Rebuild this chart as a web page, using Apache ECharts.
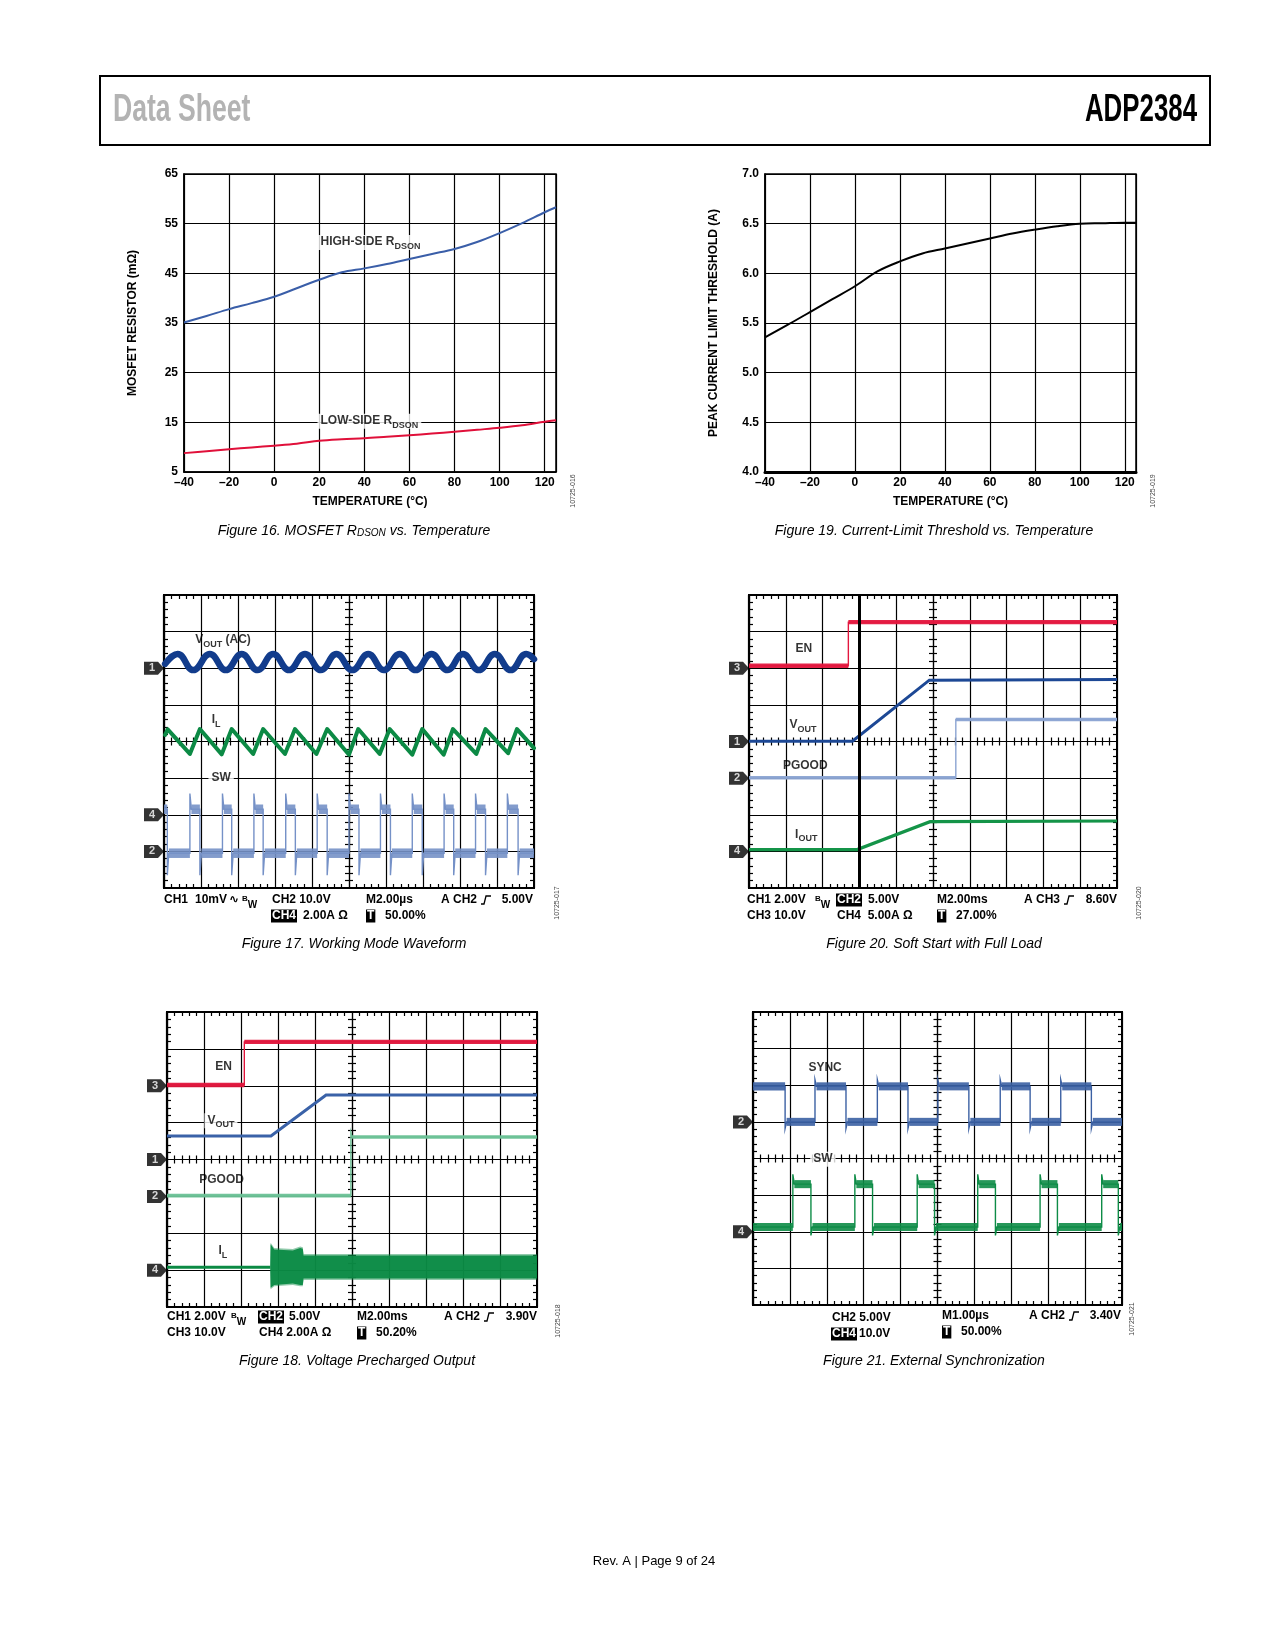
<!DOCTYPE html>
<html><head><meta charset="utf-8">
<script src="https://cdn.jsdelivr.net/npm/echarts@6/dist/echarts.min.js"></script>
<style>html,body{margin:0;padding:0;background:#fff}#c{width:1275px;height:1650px}</style>
</head><body><div id="c"></div>
<script>
const FF = '"Liberation Sans", Arial, Helvetica, sans-serif';

// ===== Figure 16: MOSFET RDSON vs Temperature =====
const f16Temp = [-40,-30,-20,-10,0,10,20,30,40,50,60,70,80,90,100,110,120,125];
const f16High = [35.1,36.4,37.8,39.0,40.3,42.0,43.7,45.2,46.0,46.9,47.9,48.9,49.9,51.3,53.1,55.1,57.3,58.3];
const f16Low  = [8.8,9.2,9.6,9.95,10.3,10.7,11.3,11.6,11.8,12.1,12.4,12.75,13.1,13.5,13.9,14.4,15.1,15.4];

// ===== Figure 19: Current-limit threshold =====
const f19Temp = [-40,-30,-20,-10,0,10,20,30,40,50,60,70,80,90,100,110,120,125];
const f19Ilim = [5.355,5.48,5.61,5.74,5.87,6.02,6.12,6.20,6.25,6.30,6.35,6.40,6.44,6.475,6.50,6.505,6.51,6.51];

// ===== Figure 17: working mode (divisions, x -5..5, y -4..4) =====
const f17VoutX = [-4.97,-4.63,-4.21,-3.76,-3.33,-2.90,-2.47,-2.05,-1.62,-1.19,-0.76,-0.34,0.09,0.52,0.94,1.37,1.80,2.23,2.66,3.08,3.51,3.94,4.37,4.79,5.00];
const f17VoutY = [2.12,2.39,1.95,2.39,1.95,2.39,1.95,2.39,1.95,2.39,1.95,2.39,1.95,2.39,1.95,2.39,1.95,2.39,1.95,2.39,1.95,2.39,1.95,2.39,2.25];
const f17IlX = [-4.97,-4.90,-4.30,-4.03,-3.44,-3.17,-2.59,-2.32,-1.73,-1.46,-0.88,-0.59,0.00,0.25,0.83,1.10,1.71,1.98,2.56,2.81,3.44,3.69,4.30,4.54,5.00];
const f17IlY = [0.18,0.33,-0.34,0.34,-0.35,0.34,-0.34,0.34,-0.34,0.34,-0.34,0.34,-0.36,0.34,-0.34,0.34,-0.36,0.34,-0.36,0.34,-0.34,0.34,-0.32,0.34,-0.18];
const f17SwRise = [-4.30,-3.42,-2.57,-1.71,-0.86,0.00,0.85,1.71,2.57,3.42,4.28];
const f17SwFall = [-4.91,-4.03,-3.17,-2.32,-1.45,-0.59,0.27,1.12,1.98,2.83,3.69,4.57];
const f17SwLevel = [-1.85,-3.05];      // high, low
const f17SwSpike = [-1.42,-3.65];      // overshoot up, undershoot down
const f17Markers = ['1','4','2'];
const f17MarkerY = [2,-2,-3];

// ===== Figure 20: soft start =====
const f20EnX = [-5,-2.30,-2.30,5];      const f20EnY = [2.07,2.07,3.26,3.26];
const f20VoutX = [-5,-2.19,-0.10,5];    const f20VoutY = [0.01,0.01,1.675,1.69];
const f20PgX = [-5,0.62,0.62,5];        const f20PgY = [-0.99,-0.99,0.60,0.60];
const f20IoX = [-5,-2.06,-0.08,5];      const f20IoY = [-2.95,-2.95,-2.19,-2.17];
const f20Cursor = [-2];
const f20Markers = ['3','1','2','4'];
const f20MarkerY = [2,0,-1,-3];

// ===== Figure 18: precharged output =====
const f18EnX = [-5,-2.91,-2.91,5];      const f18EnY = [2.02,2.02,3.19,3.19];
const f18VoutX = [-5,-2.19,-0.70,5];    const f18VoutY = [0.64,0.64,1.75,1.75];
const f18PgX = [-5,-0.03,-0.03,0.00,5]; const f18PgY = [-0.98,-0.98,0.73,0.61,0.61];
const f18IlX = [-5,-2.21];              const f18IlY = [-2.92,-2.92];
const f18IlBandX  = [-2.21,-2.20,-2.10,-1.60,-1.40,-1.33,-1.31,5.00];
const f18IlBandHi = [-2.92,-2.30,-2.44,-2.47,-2.40,-2.42,-2.60,-2.60];
const f18IlBandLo = [-2.92,-3.48,-3.40,-3.36,-3.40,-3.40,-3.23,-3.23];
const f18Markers = ['3','1','2','4'];
const f18MarkerY = [2,0,-1,-3];

// ===== Figure 21: external sync =====
const f21SyncRise = [-3.32,-1.63,0.01,1.70,3.34];
const f21SyncFall = [-4.13,-2.48,-0.80,0.85,2.51,4.17];
const f21SyncLevel = [1.97,1.00];
const f21SyncSpike = [2.15,0.82];
const f21SwRise = [-3.92,-2.24,-0.55,1.09,2.78,4.45];
const f21SwFall = [-3.43,-1.76,-0.08,1.57,3.25,4.90];
const f21SwLevel = [-0.70,-1.87];
const f21SwSpike = [-0.43,-2.10];
const f21Markers = ['2','4'];
const f21MarkerY = [1,-2];

// ===== layout =====
const grids = [
  {left:184, top:174, width:372, height:298},
  {left:765, top:174, width:371, height:298},
  {left:164, top:595, width:370, height:293},
  {left:749, top:595, width:368, height:293},
  {left:167, top:1012, width:370, height:295},
  {left:753, top:1012, width:369, height:293}
];
const isScope = [false,false,true,true,true,true];

const xAxes=[], yAxes=[];
const addX=o=>{xAxes.push(o);return xAxes.length-1;};
const addY=o=>{yAxes.push(o);return yAxes.length-1;};
const B12 = {fontFamily:FF, fontWeight:'bold', fontSize:12, color:'#000'};
const zip=(a,b)=>a.map((v,i)=>[v,b[i]]);

function tempAxes(gi, yMin, yMax, yInt, yName, yFmt, bw){
  const xi = addX({gridIndex:gi, type:'value', min:-40, max:125, interval:20,
    axisLine:{show:true,onZero:false,lineStyle:{color:'#000',width:bw}},
    axisTick:{show:false}, splitLine:{show:true,lineStyle:{color:'#000',width:1.2}},
    axisLabel:Object.assign({}, B12, {margin:5, showMaxLabel:false, formatter:v=>String(v).replace('-','\u2013')}),
    name:'TEMPERATURE (\u00B0C)', nameLocation:'middle', nameGap:24, nameTextStyle:Object.assign({},B12)});
  const yi = addY({gridIndex:gi, type:'value', min:yMin, max:yMax, interval:yInt,
    axisLine:{show:true,onZero:false,lineStyle:{color:'#000',width:1.5}},
    axisTick:{show:false}, splitLine:{show:true,lineStyle:{color:'#000',width:1.2}},
    axisLabel:Object.assign({}, B12, {margin:6, formatter:yFmt}),
    name:yName, nameLocation:'middle', nameGap:45, nameTextStyle:Object.assign({},B12)});
  return [xi, yi];
}

function scopeAxes(gi){
  const g = grids[gi];
  const bl = {color:'#000', width:1.2};
  const mt = {show:true, splitNumber:5, length:4, lineStyle:{color:'#000', width:1.2}};
  const cx = {gridIndex:gi, type:'value', min:-5, max:5, interval:1, axisLabel:{show:false}, splitLine:{show:false}};
  const cy = {gridIndex:gi, type:'value', min:-4, max:4, interval:1, axisLabel:{show:false}, splitLine:{show:false}};
  const xm = addX(Object.assign({}, cx, {position:'bottom', axisLine:{show:true,onZero:false,lineStyle:{color:'#000',width:2.2}}, axisTick:{show:false,inside:true}, minorTick:mt, splitLine:{show:true,lineStyle:bl}}));
  addX(Object.assign({}, cx, {position:'top', axisLine:{show:true,onZero:false,lineStyle:{color:'#000',width:2}}, axisTick:{show:false,inside:true}, minorTick:mt}));
  addX(Object.assign({}, cx, {position:'bottom', offset:-g.height/2, axisLine:{show:true,onZero:false,lineStyle:bl}, axisTick:{show:false,inside:true}, minorTick:mt}));
  addX(Object.assign({}, cx, {position:'bottom', offset:-g.height/2, axisLine:{show:false,onZero:false}, axisTick:{show:false,inside:false}, minorTick:mt}));
  const ym = addY(Object.assign({}, cy, {position:'left', axisLine:{show:true,onZero:false,lineStyle:{color:'#000',width:2.2}}, axisTick:{show:false,inside:true}, minorTick:mt, splitLine:{show:true,lineStyle:bl}}));
  addY(Object.assign({}, cy, {position:'right', axisLine:{show:true,onZero:false,lineStyle:{color:'#000',width:2}}, axisTick:{show:false,inside:true}, minorTick:mt}));
  addY(Object.assign({}, cy, {position:'left', offset:-g.width/2, axisLine:{show:true,onZero:false,lineStyle:bl}, axisTick:{show:false,inside:true}, minorTick:mt}));
  addY(Object.assign({}, cy, {position:'left', offset:-g.width/2, axisLine:{show:false,onZero:false}, axisTick:{show:false,inside:false}, minorTick:mt}));
  return [xm, ym];
}

const A16 = tempAxes(0, 5, 65, 10, 'MOSFET RESISTOR (m\u03A9)', v=>String(v), 1.5);
const A19 = tempAxes(1, 4, 7, 0.5, 'PEAK CURRENT LIMIT THRESHOLD (A)', v=>v.toFixed(1), 3);
const A17 = scopeAxes(2);
const A20 = scopeAxes(3);
const A18 = scopeAxes(4);
const A21 = scopeAxes(5);

const series = [];
function line(ai, pts, color, width, extra){
  series.push(Object.assign({type:'line', xAxisIndex:ai[0], yAxisIndex:ai[1], data:pts, showSymbol:false, symbol:'none',
    lineStyle:{color, width, cap:'butt', join:'miter'}, itemStyle:{color}, silent:true, z:4}, extra||{}));
}
function bands(ai, items, color, opacity){
  series.push({type:'custom', xAxisIndex:ai[0], yAxisIndex:ai[1], data:items, silent:true, z:3, clip:true,
    encode:{x:[0,1], y:2},
    renderItem:(p, api)=>{
      const h = api.value(3)/2;
      const a = api.coord([api.value(0), api.value(2)+h]);
      const b = api.coord([api.value(1), api.value(2)-h]);
      return {type:'rect', shape:{x:a[0], y:a[1], width:b[0]-a[0], height:b[1]-a[1]}, style:{fill:color, opacity:opacity}};
    }});
}
function polyBand(ai, xs, hi, lo, color, opacity){
  series.push({type:'custom', xAxisIndex:ai[0], yAxisIndex:ai[1], data:[[xs[0], hi[0]]], silent:true, z:3,
    renderItem:(p, api)=>{
      const pts=[];
      for(let i=0;i<xs.length;i++) pts.push(api.coord([xs[i],hi[i]]));
      for(let i=xs.length-1;i>=0;i--) pts.push(api.coord([xs[i],lo[i]]));
      return {type:'polygon', shape:{points:pts}, style:{fill:color, opacity:opacity}};
    }});
}
function flatsOf(xs, ys, th){
  const out=[];
  for(let i=0;i<xs.length-1;i++) if(ys[i]===ys[i+1] && xs[i+1]>xs[i]) out.push([xs[i],xs[i+1],ys[i],th]);
  return out;
}
function stepTrace(ai, startHigh, rises, falls, level, spike, color, th){
  const ev = rises.map(t=>[t,1]).concat(falls.map(t=>[t,0])).sort((a,b)=>a[0]-b[0]);
  let lvl = startHigh ? level[0] : level[1];
  let cur = -5;
  const pts=[[-5,lvl]], fl=[];
  ev.forEach(([t,r])=>{
    pts.push([t,lvl]); fl.push([cur,t,lvl,th]);
    if(r){ pts.push([t,spike[0]]); lvl=level[0]; } else { pts.push([t,spike[1]]); lvl=level[1]; }
    pts.push([t+0.04,lvl]); cur=t+0.04;
  });
  pts.push([5,lvl]); fl.push([cur,5,lvl,th]);
  bands(ai, fl, color, 0.9);
  line(ai, pts, color, 1.4);
}
function markers(ai, names, ys){
  series.push({type:'scatter', xAxisIndex:ai[0], yAxisIndex:ai[1], clip:false, silent:true, z:6,
    symbol:'path://M0,0 L14,0 L20,6.5 L14,13 L0,13 Z', symbolSize:[20,13], symbolOffset:[-10,0],
    itemStyle:{color:'#000'},
    label:{show:true, position:'inside', formatter:'{b}', color:'#fff', fontFamily:FF, fontWeight:'bold', fontSize:11, offset:[-2,0]},
    data: names.map((n,i)=>({name:n, value:[-5, ys[i]]}))});
}
const RICH = {
  n:{fontFamily:FF, fontWeight:'bold', fontSize:12, color:'#000', lineHeight:14, verticalAlign:'top'},
  s:{fontFamily:FF, fontWeight:'bold', fontSize:9, color:'#000', lineHeight:10, padding:[6,0,0,0], verticalAlign:'top'}
};
function annot(ai, items){
  series.push({type:'scatter', xAxisIndex:ai[0], yAxisIndex:ai[1], clip:false, silent:true, z:7,
    symbolSize:0.1, itemStyle:{color:'rgba(0,0,0,0)'},
    data: items.map(it=>({value:[it[0],it[1]], label:{show:true, position:'right', distance:0, formatter:it[2],
      rich:RICH, backgroundColor: it[3] ? '#fff' : 'transparent', padding: it[3] ? [1,3,0,3] : 0}}))});
}

// Fig 16
line(A16, zip(f16Temp, f16High), '#3a5ea8', 2, {smooth:0.35});
line(A16, zip(f16Temp, f16Low), '#e0103a', 2, {smooth:0.35});
annot(A16, [[19.2, 51.2, '{n|HIGH-SIDE R}{s|DSON}', true], [19.2, 15.2, '{n|LOW-SIDE R}{s|DSON}', true]]);
// Fig 19
line(A19, zip(f19Temp, f19Ilim), '#000', 2, {smooth:0.35});

// Fig 17
line(A17, zip(f17VoutX, f17VoutY), '#123c8c', 6.5, {smooth:0.45, lineStyle:{color:'#123c8c', width:6.5, cap:'round', join:'round'}});
line(A17, zip(f17IlX, f17IlY), '#0c8a45', 4, {lineStyle:{color:'#0c8a45', width:4, cap:'round', join:'round'}});
stepTrace(A17, true, f17SwRise, f17SwFall, f17SwLevel, f17SwSpike, '#7591c7', 0.26);
markers(A17, f17Markers, f17MarkerY);
annot(A17, [[-4.16, 2.75, '{n|V}{s|OUT}{n| (AC)}', false], [-3.71, 0.57, '{n|I}{s|L}', false], [-3.80, -1.0, '{n|SW}', true]]);

// Fig 20
bands(A20, flatsOf(f20EnX, f20EnY, 0.12), '#e3173e', 0.95);
line(A20, zip(f20EnX, f20EnY), '#e3173e', 1.4);
line(A20, zip(f20VoutX, f20VoutY), '#1d4895', 3, {markLine:{silent:true, symbol:['none','none'], label:{show:false},
  lineStyle:{color:'#000', width:3, type:'solid'}, data:f20Cursor.map(v=>({xAxis:v}))}});
bands(A20, flatsOf(f20PgX, f20PgY, 0.1), '#8ba4d2', 0.95);
line(A20, zip(f20PgX, f20PgY), '#8ba4d2', 1.4);
line(A20, zip(f20IoX, f20IoY), '#149448', 3.2);
markers(A20, f20Markers, f20MarkerY);
annot(A20, [[-3.74, 2.51, '{n|EN}', false], [-3.90, 0.42, '{n|V}{s|OUT}', false], [-4.08, -0.69, '{n|PGOOD}', false], [-3.75, -2.56, '{n|I}{s|OUT}', false]]);

// Fig 18
bands(A18, flatsOf(f18EnX, f18EnY, 0.12), '#e0163c', 0.95);
line(A18, zip(f18EnX, f18EnY), '#e0163c', 1.4);
line(A18, zip(f18VoutX, f18VoutY), '#3a62a8', 3);
bands(A18, flatsOf(f18PgX, f18PgY, 0.1), '#6cc196', 0.95);
line(A18, zip(f18PgX, f18PgY), '#6cc196', 1.4);
line(A18, zip(f18IlX, f18IlY), '#0b8a44', 3);
polyBand(A18, f18IlBandX, f18IlBandHi.map(v=>v+0.04), f18IlBandLo.map(v=>v-0.04), '#0b8a44', 0.45);
polyBand(A18, f18IlBandX, f18IlBandHi, f18IlBandLo, '#0b8a44', 0.95);
markers(A18, f18Markers, f18MarkerY);
annot(A18, [[-3.70, 2.49, '{n|EN}', false], [-3.99, 1.05, '{n|V}{s|OUT}', true], [-4.13, -0.58, '{n|PGOOD}', false], [-3.61, -2.51, '{n|I}{s|L}', false]]);

// Fig 21
stepTrace(A21, true, f21SyncRise, f21SyncFall, f21SyncLevel, f21SyncSpike, '#3b60a3', 0.22);
stepTrace(A21, false, f21SwRise, f21SwFall, f21SwLevel, f21SwSpike, '#0e8c47', 0.22);
markers(A21, f21Markers, f21MarkerY);
annot(A21, [[-3.50, 2.45, '{n|SYNC}', false], [-3.45, -0.02, '{n|SW}', true]]);

// ===== page text =====
const G = [];
const F12 = 'bold 12px ' + FF;
function gt(x, y, text, o){
  G.push({type:'text', x, y, silent:true, z:10, style:Object.assign({text, fill:'#000', font:F12, align:'left', verticalAlign:'middle', textAlign:'left', textVerticalAlign:'middle'}, o||{})});
}
function inv(x, y, text){ gt(x, y, text, {fill:'#fff', backgroundColor:'#000', padding:[1,1,0,1]}); }
function trig(x, y){ G.push({type:'polyline', silent:true, z:10, shape:{points:[[x,y+4],[x+3,y+4],[x+5,y-4],[x+10,y-4]]}, style:{stroke:'#000', lineWidth:1.3, fill:null}}); }
const BW_RICH = {b:{font:'bold 8px '+FF, fill:'#000', lineHeight:9, verticalAlign:'top'}, w:{font:'bold 10px '+FF, fill:'#000', lineHeight:10, padding:[5,0,0,0], verticalAlign:'top'}};

// header
G.push({type:'rect', silent:true, shape:{x:100, y:76, width:1110, height:69}, style:{fill:'none', stroke:'#000', lineWidth:2}});
G.push({type:'text', x:113, y:111, scaleX:0.7, silent:true, style:{text:'Data Sheet', fill:'#b3b3b3', font:'bold 38px '+FF, align:'left', verticalAlign:'middle'}});
G.push({type:'text', x:1197, y:111, scaleX:0.68, silent:true, style:{text:'ADP2384', fill:'#000', font:'bold 38px '+FF, align:'right', verticalAlign:'middle'}});

// captions
const CAP_RICH = {i:{font:'italic 14px '+FF, fill:'#000'}, s:{font:'italic 10px '+FF, fill:'#000', padding:[5,0,0,0]}};
function cap(x, y, text){ G.push({type:'text', x, y, silent:true, style:{text, rich:CAP_RICH, align:'center', verticalAlign:'middle'}}); }
cap(354, 531, '{i|Figure 16. MOSFET R}{s|DSON}{i| vs. Temperature}');
cap(934, 531, '{i|Figure 19. Current-Limit Threshold vs. Temperature}');
cap(354, 944, '{i|Figure 17. Working Mode Waveform}');
cap(934, 944, '{i|Figure 20. Soft Start with Full Load}');
cap(357, 1361, '{i|Figure 18. Voltage Precharged Output}');
cap(934, 1361, '{i|Figure 21. External Synchronization}');
G.push({type:'text', x:654, y:1561, silent:true, style:{text:'Rev. A | Page 9 of 24', fill:'#000', font:'13px '+FF, align:'center', verticalAlign:'middle'}});

// side codes
[[573,491,'10725-016'],[1153,491,'10725-019'],[557,903,'10725-017'],[1139,903,'10725-020'],[558,1321,'10725-018'],[1132,1319,'10725-021']].forEach(c=>{
  G.push({type:'text', x:c[0], y:c[1], rotation:Math.PI/2, silent:true, style:{text:c[2], fill:'#444', font:'7px '+FF, align:'center', verticalAlign:'middle'}});
});

// Fig 17 scope readout
gt(164, 900, 'CH1');
gt(195, 900, '10mV');
gt(229, 900, '\u223F', {font:'bold 12px "DejaVu Sans", sans-serif'});
G.push({type:'text', x:242, y:900, silent:true, style:{text:'{b|B}{w|W}', rich:BW_RICH, align:'left', verticalAlign:'middle'}});
gt(272, 900, 'CH2 10.0V');
gt(366, 900, 'M2.00\u00B5s');
gt(441, 900, 'A CH2'); trig(481, 900); gt(533, 900, '5.00V', {align:'right', textAlign:'right'});
inv(271, 916, 'CH4'); gt(303, 916, '2.00A \u03A9'); inv(366, 916, 'T'); gt(385, 916, '50.00%');

// Fig 20 scope readout
gt(747, 900, 'CH1 2.00V');
G.push({type:'text', x:815, y:900, silent:true, style:{text:'{b|B}{w|W}', rich:BW_RICH, align:'left', verticalAlign:'middle'}});
inv(836, 900, 'CH2'); gt(868, 900, '5.00V');
gt(937, 900, 'M2.00ms');
gt(1024, 900, 'A CH3'); trig(1064, 900); gt(1117, 900, '8.60V', {align:'right', textAlign:'right'});
gt(747, 916, 'CH3 10.0V'); gt(837, 916, 'CH4  5.00A \u03A9'); inv(937, 916, 'T'); gt(956, 916, '27.00%');

// Fig 18 scope readout
gt(167, 1317, 'CH1 2.00V');
G.push({type:'text', x:231, y:1317, silent:true, style:{text:'{b|B}{w|W}', rich:BW_RICH, align:'left', verticalAlign:'middle'}});
inv(258, 1317, 'CH2'); gt(289, 1317, '5.00V');
gt(357, 1317, 'M2.00ms');
gt(444, 1317, 'A CH2'); trig(484, 1317); gt(537, 1317, '3.90V', {align:'right', textAlign:'right'});
gt(167, 1333, 'CH3 10.0V'); gt(259, 1333, 'CH4 2.00A \u03A9'); inv(357, 1333, 'T'); gt(376, 1333, '50.20%');

// Fig 21 scope readout
gt(832, 1318, 'CH2 5.00V');
gt(942, 1316, 'M1.00\u00B5s');
gt(1029, 1316, 'A CH2'); trig(1069, 1316); gt(1121, 1316, '3.40V', {align:'right', textAlign:'right'});
inv(831, 1334, 'CH4'); gt(859, 1334, '10.0V'); inv(942, 1332, 'T'); gt(961, 1332, '50.00%');

const chart = echarts.init(document.getElementById('c'), null, {renderer:'canvas', width:1275, height:1650});
chart.setOption({
  animation:false,
  backgroundColor:'#fff',
  grid: grids.map((g,i)=>Object.assign({}, g, {show:true, borderColor:'#000', borderWidth: isScope[i] ? 2 : 1.5, backgroundColor:'transparent', containLabel:false})),
  xAxis: xAxes, yAxis: yAxes, series, graphic:{elements:G}
});
</script></body></html>
